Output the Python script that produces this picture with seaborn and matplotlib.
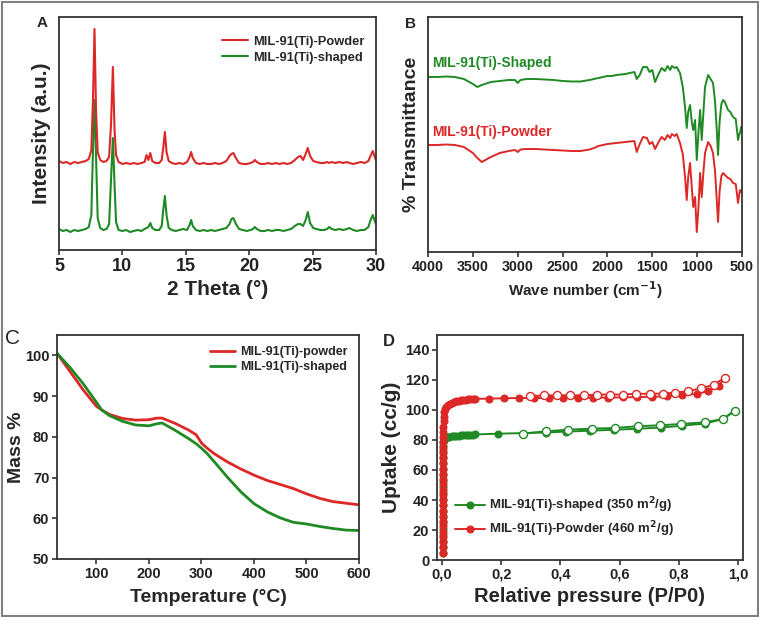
import matplotlib
matplotlib.use("Agg")
import matplotlib.pyplot as plt
import seaborn as sns
from matplotlib.patches import Rectangle
from matplotlib.ticker import FuncFormatter

# ---- A: XRD (2 theta vs intensity, offset traces, arbitrary units)
xrd_2theta = [5.0, 5.3, 5.6, 5.9, 6.2, 6.5, 6.8, 7.1, 7.35, 7.55,
              7.68, 7.8, 7.92, 8.05, 8.25, 8.5, 8.75, 8.95, 9.1, 9.25,
              9.38, 9.5, 9.7, 10.0, 10.3, 10.6, 10.9, 11.2, 11.5, 11.75,
              11.9, 12.05, 12.2, 12.35, 12.6, 12.9, 13.1, 13.22, 13.35, 13.48,
              13.65, 13.9, 14.2, 14.5, 14.8, 15.1, 15.3, 15.42, 15.55, 15.8,
              16.1, 16.4, 16.7, 17.0, 17.3, 17.6, 17.9, 18.2, 18.45, 18.6,
              18.75, 18.95, 19.2, 19.5, 19.8, 20.1, 20.3, 20.45, 20.6, 20.9,
              21.2, 21.5, 21.8, 22.1, 22.4, 22.7, 23.0, 23.3, 23.6, 23.85,
              24.05, 24.25, 24.45, 24.62, 24.8, 25.05, 25.3, 25.6, 25.9, 26.15,
              26.3, 26.5, 26.8, 27.1, 27.4, 27.7, 27.9, 28.2, 28.5, 28.8,
              29.1, 29.4, 29.6, 29.75, 29.9, 30.0]
xrd_powder = [89, 87, 88, 86, 88, 87, 88, 89, 91, 100,
              150, 221, 140, 98, 90, 88, 89, 93, 125, 183,
              120, 95, 88, 86, 87, 86, 87, 86, 87, 88,
              95, 90, 97, 89, 87, 87, 90, 102, 118, 98,
              89, 87, 86, 87, 86, 88, 93, 98, 92, 87,
              86, 87, 86, 86, 87, 86, 87, 89, 94, 96,
              97, 92, 87, 86, 86, 87, 88, 90, 88, 86,
              86, 87, 86, 87, 86, 87, 86, 87, 90, 93,
              94, 90, 96, 102, 94, 89, 88, 87, 87, 88,
              87, 88, 87, 88, 87, 88, 87, 86, 87, 88,
              87, 89, 95, 99, 93, 90]
xrd_shaped = [21, 19, 20, 18, 20, 19, 20, 21, 23, 35,
              100, 150, 95, 32, 22, 20, 21, 26, 70, 112,
              65, 28, 20, 19, 20, 18, 19, 20, 19, 21,
              22, 23, 27, 22, 20, 20, 24, 40, 54, 35,
              22, 20, 19, 20, 21, 20, 25, 30, 24, 20,
              19, 20, 19, 20, 19, 20, 21, 22, 26, 31,
              32, 26, 21, 20, 19, 20, 21, 23, 21, 19,
              19, 20, 19, 20, 20, 19, 20, 21, 24, 26,
              26, 24, 30, 38, 27, 22, 21, 20, 20, 21,
              23, 21, 20, 21, 20, 21, 22, 20, 19, 20,
              20, 23, 31, 35, 29, 26]

# ---- B: FTIR (wave number vs transmittance, offset traces)
ftir_wn = [4000, 3900, 3800, 3700, 3600, 3500, 3450, 3400, 3300, 3200,
           3100, 3030, 3000, 2970, 2900, 2800, 2700, 2600, 2500, 2400,
           2300, 2200, 2150, 2100, 2000, 1950, 1900, 1800, 1700, 1673,
           1640, 1603, 1560, 1530, 1500, 1469, 1430, 1395, 1360, 1330,
           1300, 1283, 1250, 1228, 1191, 1160, 1135, 1116, 1100, 1079,
           1060, 1044, 1023, 1004, 985, 967, 949, 930, 912, 878,
           850, 823, 800, 780, 767, 750, 730, 711, 690, 656,
           630, 600, 570, 544, 530, 522, 510, 500]
ftir_shaped = [175, 175, 175.5, 175, 173, 168, 165, 167, 170, 171,
               172, 172, 169, 172, 173, 173, 172.5, 172, 171, 170.5,
               170.5, 172, 173, 174, 176, 176, 177, 178, 180, 173,
               177, 185, 185, 180, 182, 170, 178, 184, 181, 186,
               182, 186, 184, 185, 179, 165, 145, 124, 140, 147,
               130, 122, 132, 92, 120, 142, 112, 140, 165, 177,
               173, 169, 150, 120, 97, 130, 148, 152, 150, 142,
               140, 135, 133, 112, 118, 119, 125, 120]
ftir_powder = [107, 107, 107.5, 107, 105, 99, 94, 90, 95, 99,
               101, 102, 100, 102.5, 103, 103, 102.5, 102, 101.5, 101,
               101, 102.5, 104, 106, 108, 108.5, 109, 110, 111, 100,
               108, 115, 114, 108, 110, 103, 110, 115, 112, 117,
               114, 118, 116, 118, 109, 98, 75, 52, 75, 89,
               65, 45, 55, 20, 45, 79, 55, 80, 99, 110,
               106, 99, 80, 50, 30, 60, 76, 79, 77, 74,
               73, 69, 68, 49, 58, 62, 60, 62]

# ---- C: TGA
tga_temp = [25, 50, 75, 100, 110, 125, 150, 175, 200, 215, 225, 250, 275, 290,
            300, 310, 325, 350, 375, 400, 425, 450, 475, 500, 525, 550, 575, 600]
tga_powder = [100.5, 96, 91.5, 87.5, 86.6, 85.5, 84.5, 84.1, 84.2, 84.6, 84.6, 83.3, 81.7, 80.5,
              78.5, 77.3, 75.8, 73.8, 72.1, 70.6, 69.3, 68.3, 67.3, 66.0, 64.9, 64.1, 63.7, 63.3]
tga_shaped = [100.5, 97, 93, 88.5, 86.6, 85.2, 83.8, 82.9, 82.7, 83.2, 83.4, 81.6, 79.6, 78.3,
              77.2, 76.0, 73.8, 70.0, 66.5, 63.6, 61.6, 60.1, 59.0, 58.6, 58.0, 57.5, 57.1, 57.0]

# ---- D: N2 isotherms (adsorption filled, desorption open)
shaped_ads_p = [0.004, 0.004, 0.004, 0.004, 0.004, 0.004, 0.004, 0.004, 0.004, 0.004,
                0.004, 0.004, 0.004, 0.004, 0.004, 0.004, 0.004, 0.004, 0.004, 0.004,
                0.005, 0.007, 0.01, 0.014, 0.019, 0.025, 0.032, 0.04, 0.048, 0.056,
                0.064, 0.072, 0.08, 0.088, 0.096, 0.104, 0.112, 0.19, 0.35, 0.42,
                0.5, 0.58, 0.66, 0.74, 0.81, 0.89, 0.95, 0.99]
shaped_ads_v = [5, 9, 13, 17, 21, 25, 29, 33, 37, 41,
                45, 49, 53, 57, 61, 65, 69, 73, 76, 78.5,
                80, 80.8, 81.3, 81.7, 82, 82.2, 82.4, 82.6, 82.8, 83,
                83.1, 83.2, 83.3, 83.4, 83.5, 83.6, 83.7, 84.2, 85, 85.6,
                86.2, 86.8, 87.5, 88.3, 89.5, 91, 94, 99.6]
shaped_des_p = [0.99, 0.949, 0.888, 0.809, 0.736, 0.661, 0.584, 0.508, 0.427, 0.351, 0.275]
shaped_des_v = [99.6, 94, 91.8, 90.7, 89.8, 89.2, 88, 87.6, 86.9, 85.8, 84.3]

powder_ads_p = [0.004, 0.004, 0.0035, 0.0035, 0.003, 0.003, 0.003, 0.003, 0.003, 0.003,
                0.003, 0.003, 0.003, 0.003, 0.003, 0.003, 0.003, 0.003, 0.003, 0.003,
                0.003, 0.003, 0.003, 0.0035, 0.004, 0.005, 0.006, 0.008, 0.011, 0.015,
                0.02, 0.026, 0.033, 0.04, 0.048, 0.056, 0.064, 0.072, 0.08, 0.088,
                0.096, 0.104, 0.112, 0.16, 0.21, 0.26, 0.31, 0.36, 0.41, 0.46,
                0.51, 0.56, 0.61, 0.66, 0.71, 0.76, 0.81, 0.86, 0.9, 0.935, 0.955]
powder_ads_v = [5, 8.5, 12, 15.5, 19, 22.5, 26, 29.5, 33, 36.5,
                40, 43.5, 47, 50.5, 54, 57.5, 61, 64.5, 68, 71.5,
                75, 78.5, 82, 85.5, 89, 92.5, 95.5, 98.5, 100.5, 102,
                103.3, 104.3, 105, 105.6, 106, 106.3, 106.6, 106.8, 107, 107.1,
                107.2, 107.3, 107.4, 107.6, 107.8, 108, 108, 108, 108.1, 108.1,
                108.2, 108.3, 108.4, 108.6, 108.8, 109.2, 109.8, 110.8, 112.5, 116, 121.5]
powder_des_p = [0.955, 0.919, 0.876, 0.831, 0.787, 0.745, 0.702, 0.657, 0.612, 0.567,
                0.522, 0.48, 0.433, 0.388, 0.343, 0.298]
powder_des_v = [121.5, 117, 114.4, 112.6, 111.5, 111, 110.8, 110.8, 110.3, 110.3,
                110.3, 109.7, 109.7, 109.7, 109.7, 109.2]

RED = "#dd2828"
GREEN = "#1f8a24"
W, H = 759, 617

sns.set_theme(style="ticks")
plt.rcParams["font.family"] = ["Liberation Sans", "DejaVu Sans"]
plt.rcParams["font.weight"] = "bold"
plt.rcParams["axes.labelweight"] = "bold"
plt.rcParams["axes.edgecolor"] = "#333333"
plt.rcParams["axes.linewidth"] = 1.3


def box(l, t, r, b):
    return [l / W, 1 - b / H, (r - l) / W, (b - t) / H]


def style_axes(ax, size):
    ax.tick_params(direction="out", length=3.5, width=1.1, labelsize=size,
                   colors="#222222", pad=2)
    for s in ax.spines.values():
        s.set_visible(True)
        s.set_color("#333333")


fig = plt.figure(figsize=(W / 100, H / 100), dpi=100)

# ---------------- A
axA = fig.add_axes(box(59, 17, 376, 250))
sns.lineplot(x=xrd_2theta, y=xrd_shaped, ax=axA, color=GREEN, lw=1.5,
             sort=False, estimator=None, label="MIL-91(Ti)-shaped")
sns.lineplot(x=xrd_2theta, y=xrd_powder, ax=axA, color=RED, lw=1.5,
             sort=False, estimator=None, label="MIL-91(Ti)-Powder")
axA.set_xlim(5, 30)
axA.set_ylim(0, 233)
axA.set_yticks([])
axA.set_xticks([5, 10, 15, 20, 25, 30])
axA.set_xlabel("2 Theta (°)", fontsize=15, labelpad=4)
axA.set_ylabel("Intensity (a.u.)", fontsize=15, labelpad=6)
style_axes(axA, 13)
h, l = axA.get_legend_handles_labels()
axA.legend(h[::-1], l[::-1], loc="upper right", bbox_to_anchor=(1.0, 0.97),
           frameon=False, fontsize=9.3, handlelength=2.0, handletextpad=0.4,
           labelspacing=0.3)

# ---------------- B
axB = fig.add_axes(box(428, 17, 742, 252))
sns.lineplot(x=ftir_wn, y=ftir_shaped, ax=axB, color=GREEN, lw=1.4,
             sort=False, estimator=None)
sns.lineplot(x=ftir_wn, y=ftir_powder, ax=axB, color=RED, lw=1.4,
             sort=False, estimator=None)
axB.set_xlim(4000, 500)
axB.set_ylim(0, 235)
axB.set_yticks([])
axB.set_xticks([4000, 3500, 3000, 2500, 2000, 1500, 1000, 500])
axB.set_xlabel("Wave number (cm$^{\\mathbf{-1}}$)", fontsize=11, labelpad=4)
axB.set_ylabel("% Transmittance", fontsize=14, labelpad=6)
style_axes(axB, 10.3)
axB.text(0.012, 0.805, "MIL-91(Ti)-Shaped", transform=axB.transAxes,
         color=GREEN, fontsize=10, va="center")
axB.text(0.012, 0.51, "MIL-91(Ti)-Powder", transform=axB.transAxes,
         color=RED, fontsize=10, va="center")

# ---------------- C
axC = fig.add_axes(box(57, 335, 359, 559))
sns.lineplot(x=tga_temp, y=tga_powder, ax=axC, color=RED, lw=2.0,
             sort=False, estimator=None, label="MIL-91(Ti)-powder")
sns.lineplot(x=tga_temp, y=tga_shaped, ax=axC, color=GREEN, lw=2.0,
             sort=False, estimator=None, label="MIL-91(Ti)-shaped")
axC.set_xlim(25, 600)
axC.set_ylim(50, 105)
axC.set_xticks([100, 200, 300, 400, 500, 600])
axC.set_yticks([50, 60, 70, 80, 90, 100])
axC.set_xlabel("Temperature (°C)", fontsize=14, labelpad=6)
axC.set_ylabel("Mass %", fontsize=14, labelpad=0)
style_axes(axC, 10.5)
axC.legend(loc="upper right", bbox_to_anchor=(1.0, 1.0), frameon=False,
           fontsize=9, handlelength=2.0, handletextpad=0.4, labelspacing=0.25)

# ---------------- D
axD = fig.add_axes(box(437, 335, 743, 560))
sns.lineplot(x=shaped_ads_p, y=shaped_ads_v, ax=axD, color=GREEN, lw=1.4,
             sort=False, estimator=None, marker="o", markersize=5,
             markerfacecolor=GREEN, markeredgecolor=GREEN, markeredgewidth=0.8,
             label="MIL-91(Ti)-shaped (350 m$^{\\mathbf{2}}$/g)")
sns.lineplot(x=shaped_des_p, y=shaped_des_v, ax=axD, color=GREEN, lw=1.4,
             sort=False, estimator=None, marker="o", markersize=5.8,
             markerfacecolor="white", markeredgecolor=GREEN, markeredgewidth=1.0)
sns.lineplot(x=powder_ads_p, y=powder_ads_v, ax=axD, color=RED, lw=1.4,
             sort=False, estimator=None, marker="o", markersize=5,
             markerfacecolor=RED, markeredgecolor=RED, markeredgewidth=0.8,
             label="MIL-91(Ti)-Powder (460 m$^{\\mathbf{2}}$/g)")
sns.lineplot(x=powder_des_p, y=powder_des_v, ax=axD, color=RED, lw=1.4,
             sort=False, estimator=None, marker="o", markersize=5.8,
             markerfacecolor="white", markeredgecolor=RED, markeredgewidth=1.0)
axD.set_xlim(-0.017, 1.017)
axD.set_ylim(0, 150)
axD.set_xticks([0, 0.2, 0.4, 0.6, 0.8, 1.0])
axD.set_yticks([0, 20, 40, 60, 80, 100, 120, 140])
axD.xaxis.set_major_formatter(FuncFormatter(lambda v, p: f"{v:.1f}".replace(".", ",")))
axD.set_xlabel("Relative pressure (P/P0)", fontsize=14.5, labelpad=4)
axD.set_ylabel("Uptake (cc/g)", fontsize=15, labelpad=3)
style_axes(axD, 10.5)
axD.legend(loc="lower left", bbox_to_anchor=(0.02, 0.04), frameon=False,
           fontsize=9.5, handlelength=2.3, handletextpad=0.3, labelspacing=0.35)

# panel letters
fig.text(42 / W, 1 - 23 / H, "A", fontsize=11, ha="center", va="center")
fig.text(411 / W, 1 - 24 / H, "B", fontsize=11, ha="center", va="center")
fig.text(13 / W, 1 - 338 / H, "C", fontsize=15, fontweight="normal",
         ha="center", va="center")
fig.text(389 / W, 1 - 341 / H, "D", fontsize=12, ha="center", va="center")

fig.add_artist(Rectangle((1.5 / W, 1.5 / H), (W - 3) / W, (H - 3) / H,
                         transform=fig.transFigure, fill=False,
                         edgecolor="#808080", lw=1.5))

fig.savefig("out.png", dpi=100)
